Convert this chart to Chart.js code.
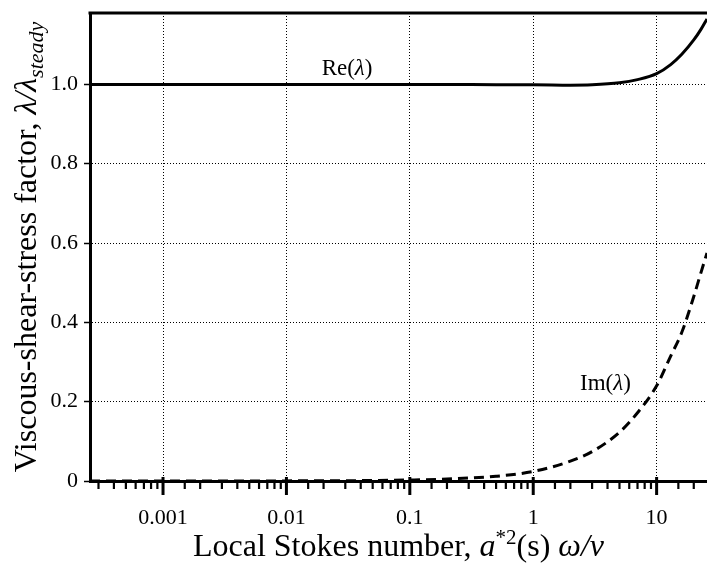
<!DOCTYPE html>
<html><head><meta charset="utf-8">
<script src="https://cdn.jsdelivr.net/npm/chart.js@4.4.0/dist/chart.umd.min.js"></script>
<style>html,body{margin:0;padding:0;background:#fff;overflow:hidden}canvas{display:block}</style>
</head><body>
<canvas id="c" width="707" height="564"></canvas>
<script>
// ---- data ----
const stokes   = [0.000256, 0.0005, 0.001, 0.002, 0.005, 0.01, 0.02, 0.05, 0.1, 0.2, 0.5, 1, 2, 3, 5, 7, 10, 13, 16, 20, 23, 25.6];
const reLambda = [1.0, 1.0, 1.0, 1.0, 1.0, 1.0, 1.0, 1.0, 1.0, 1.0, 0.999, 0.999, 0.998, 0.999, 1.004, 1.012, 1.027, 1.05, 1.076, 1.112, 1.14, 1.165];
const imLambda = [0.0, 0.0, 0.0, 0.0001, 0.0002, 0.0003, 0.0005, 0.0012, 0.0025, 0.005, 0.012, 0.024, 0.05, 0.074, 0.123, 0.172, 0.24, 0.315, 0.375, 0.465, 0.528, 0.575];
const xTickValues = [0.001, 0.01, 0.1, 1, 10];
const xTickLabels = ['0.001', '0.01', '0.1', '1', '10'];
const yTickValues = [0, 0.2, 0.4, 0.6, 0.8, 1.0];
const yTickLabels = ['0', '0.2', '0.4', '0.6', '0.8', '1.0'];
const xRange = [0.000256, 25.6];
const yRange = [0, 1.18];
const seriesNames = ['Re', 'Im'];

// ---- annotation positions (data units) ----
const reLabelAt = [0.031, 1.043];
const imLabelAt = [3.85, 0.25];

const SERIF = '"Liberation Serif", "DejaVu Serif", serif';
const near = (a, b) => Math.abs(a - b) < 1e-9 * Math.max(1, Math.abs(b)) || Math.abs(Math.log10(a) - Math.log10(b)) < 1e-6;
const xLabelIdx = v => xTickValues.findIndex(t => v > 0 && near(v, t));
const yLabelIdx = v => yTickValues.findIndex(t => Math.abs(v - t) < 1e-6);

function runsWidth(ctx, runs, base) {
  let w = 0;
  runs.forEach(r => { ctx.font = (r.it ? 'italic ' : '') + (r.size || base) + 'px ' + SERIF; w += ctx.measureText(r.t).width; });
  return w;
}
function drawRuns(ctx, runs, cx, baseY, base) {
  const w = runsWidth(ctx, runs, base);
  let x = cx - w / 2;
  ctx.textAlign = 'left';
  ctx.textBaseline = 'alphabetic';
  ctx.fillStyle = '#000';
  runs.forEach(r => {
    ctx.font = (r.it ? 'italic ' : '') + (r.size || base) + 'px ' + SERIF;
    ctx.fillText(r.t, x, baseY + (r.dy || 0));
    x += ctx.measureText(r.t).width;
  });
}

const decor = {
  id: 'decor',
  afterDraw(chart) {
    const ctx = chart.ctx, a = chart.chartArea, xs = chart.scales.x, ys = chart.scales.y;
    ctx.save();
    // top frame line
    ctx.strokeStyle = '#000';
    ctx.lineWidth = 3;
    ctx.beginPath(); ctx.moveTo(a.left - 1.5, a.top); ctx.lineTo(a.right, a.top); ctx.stroke();
    // x tick marks (major long, minor short)
    xs.ticks.forEach(t => {
      const px = xs.getPixelForValue(t.value);
      if (px < a.left + 2 || px > a.right - 1) return;
      const major = xLabelIdx(t.value) >= 0;
      ctx.lineWidth = major ? 3 : 2.2;
      ctx.beginPath();
      ctx.moveTo(px, a.bottom - (major ? 4 : 0));
      ctx.lineTo(px, a.bottom + (major ? 14 : 8));
      ctx.stroke();
    });
    // curve labels
    drawRuns(ctx, [{t: 'Re('}, {t: 'λ', it: true}, {t: ')'}],
      xs.getPixelForValue(reLabelAt[0]), ys.getPixelForValue(reLabelAt[1]) + 8, 23);
    drawRuns(ctx, [{t: 'Im('}, {t: 'λ', it: true}, {t: ')'}],
      xs.getPixelForValue(imLabelAt[0]), ys.getPixelForValue(imLabelAt[1]) + 8, 23);
    // x axis title
    drawRuns(ctx, [
      {t: 'Local Stokes number, '}, {t: 'a', it: true}, {t: '*2', size: 21, dy: -12},
      {t: '(s) '}, {t: 'ω/ν', it: true}
    ], (a.left + a.right) / 2, 556, 32);
    // y axis title (rotated)
    ctx.translate(25, (a.top + a.bottom) / 2);
    ctx.rotate(-Math.PI / 2);
    drawRuns(ctx, [
      {t: 'Viscous-shear-stress factor, '}, {t: 'λ/λ', it: true}, {t: 'steady', it: true, size: 22, dy: 7}
    ], 0, 11, 32);
    ctx.restore();
  }
};

new Chart(document.getElementById('c'), {
  type: 'line',
  data: {
    datasets: [
      { label: seriesNames[0], data: stokes.map((x, i) => ({x, y: reLambda[i]})),
        borderColor: '#000', borderWidth: 3, pointRadius: 0, cubicInterpolationMode: 'monotone', fill: false },
      { label: seriesNames[1], data: stokes.map((x, i) => ({x, y: imLambda[i]})),
        borderColor: '#000', borderWidth: 3, borderDash: [10, 6], pointRadius: 0, cubicInterpolationMode: 'monotone', fill: false }
    ]
  },
  options: {
    responsive: false,
    devicePixelRatio: 1,
    animation: false,
    layout: { padding: { top: 13, right: 0, bottom: 0, left: 0 } },
    plugins: { legend: { display: false }, tooltip: { enabled: false } },
    scales: {
      x: {
        type: 'logarithmic', min: xRange[0], max: xRange[1],
        afterFit(s) { s.height = 83; s.paddingLeft = 0; s.paddingRight = 0; },
        ticks: {
          autoSkip: false, maxRotation: 0, color: '#000', padding: 24,
          font: { family: SERIF, size: 22 },
          callback: v => { const i = xLabelIdx(v); return i >= 0 ? xTickLabels[i] : ''; }
        },
        grid: { drawTicks: false, lineWidth: 1,
          color: c => (c.tick && xLabelIdx(c.tick.value) >= 0) ? '#000' : 'rgba(0,0,0,0)' },
        border: { display: true, color: '#000', width: 3, dash: [1, 2] }
      },
      y: {
        type: 'linear', min: yRange[0], max: yRange[1],
        afterFit(s) { s.width = 90; s.paddingTop = 0; s.paddingBottom = 0; },
        ticks: {
          stepSize: 0.2, includeBounds: false, color: '#000', padding: 6,
          font: { family: SERIF, size: 22 },
          callback: v => { const i = yLabelIdx(v); return i >= 0 ? yTickLabels[i] : ''; }
        },
        grid: { drawTicks: true, tickLength: 6, tickColor: '#000', tickWidth: 1.5, lineWidth: 1,
          color: c => (c.tick && Math.abs(c.tick.value) < 1e-9) ? 'rgba(0,0,0,0)' : '#000' },
        border: { display: true, color: '#000', width: 3, dash: [1, 2] }
      }
    }
  },
  plugins: [decor]
});
</script>
</body></html>
